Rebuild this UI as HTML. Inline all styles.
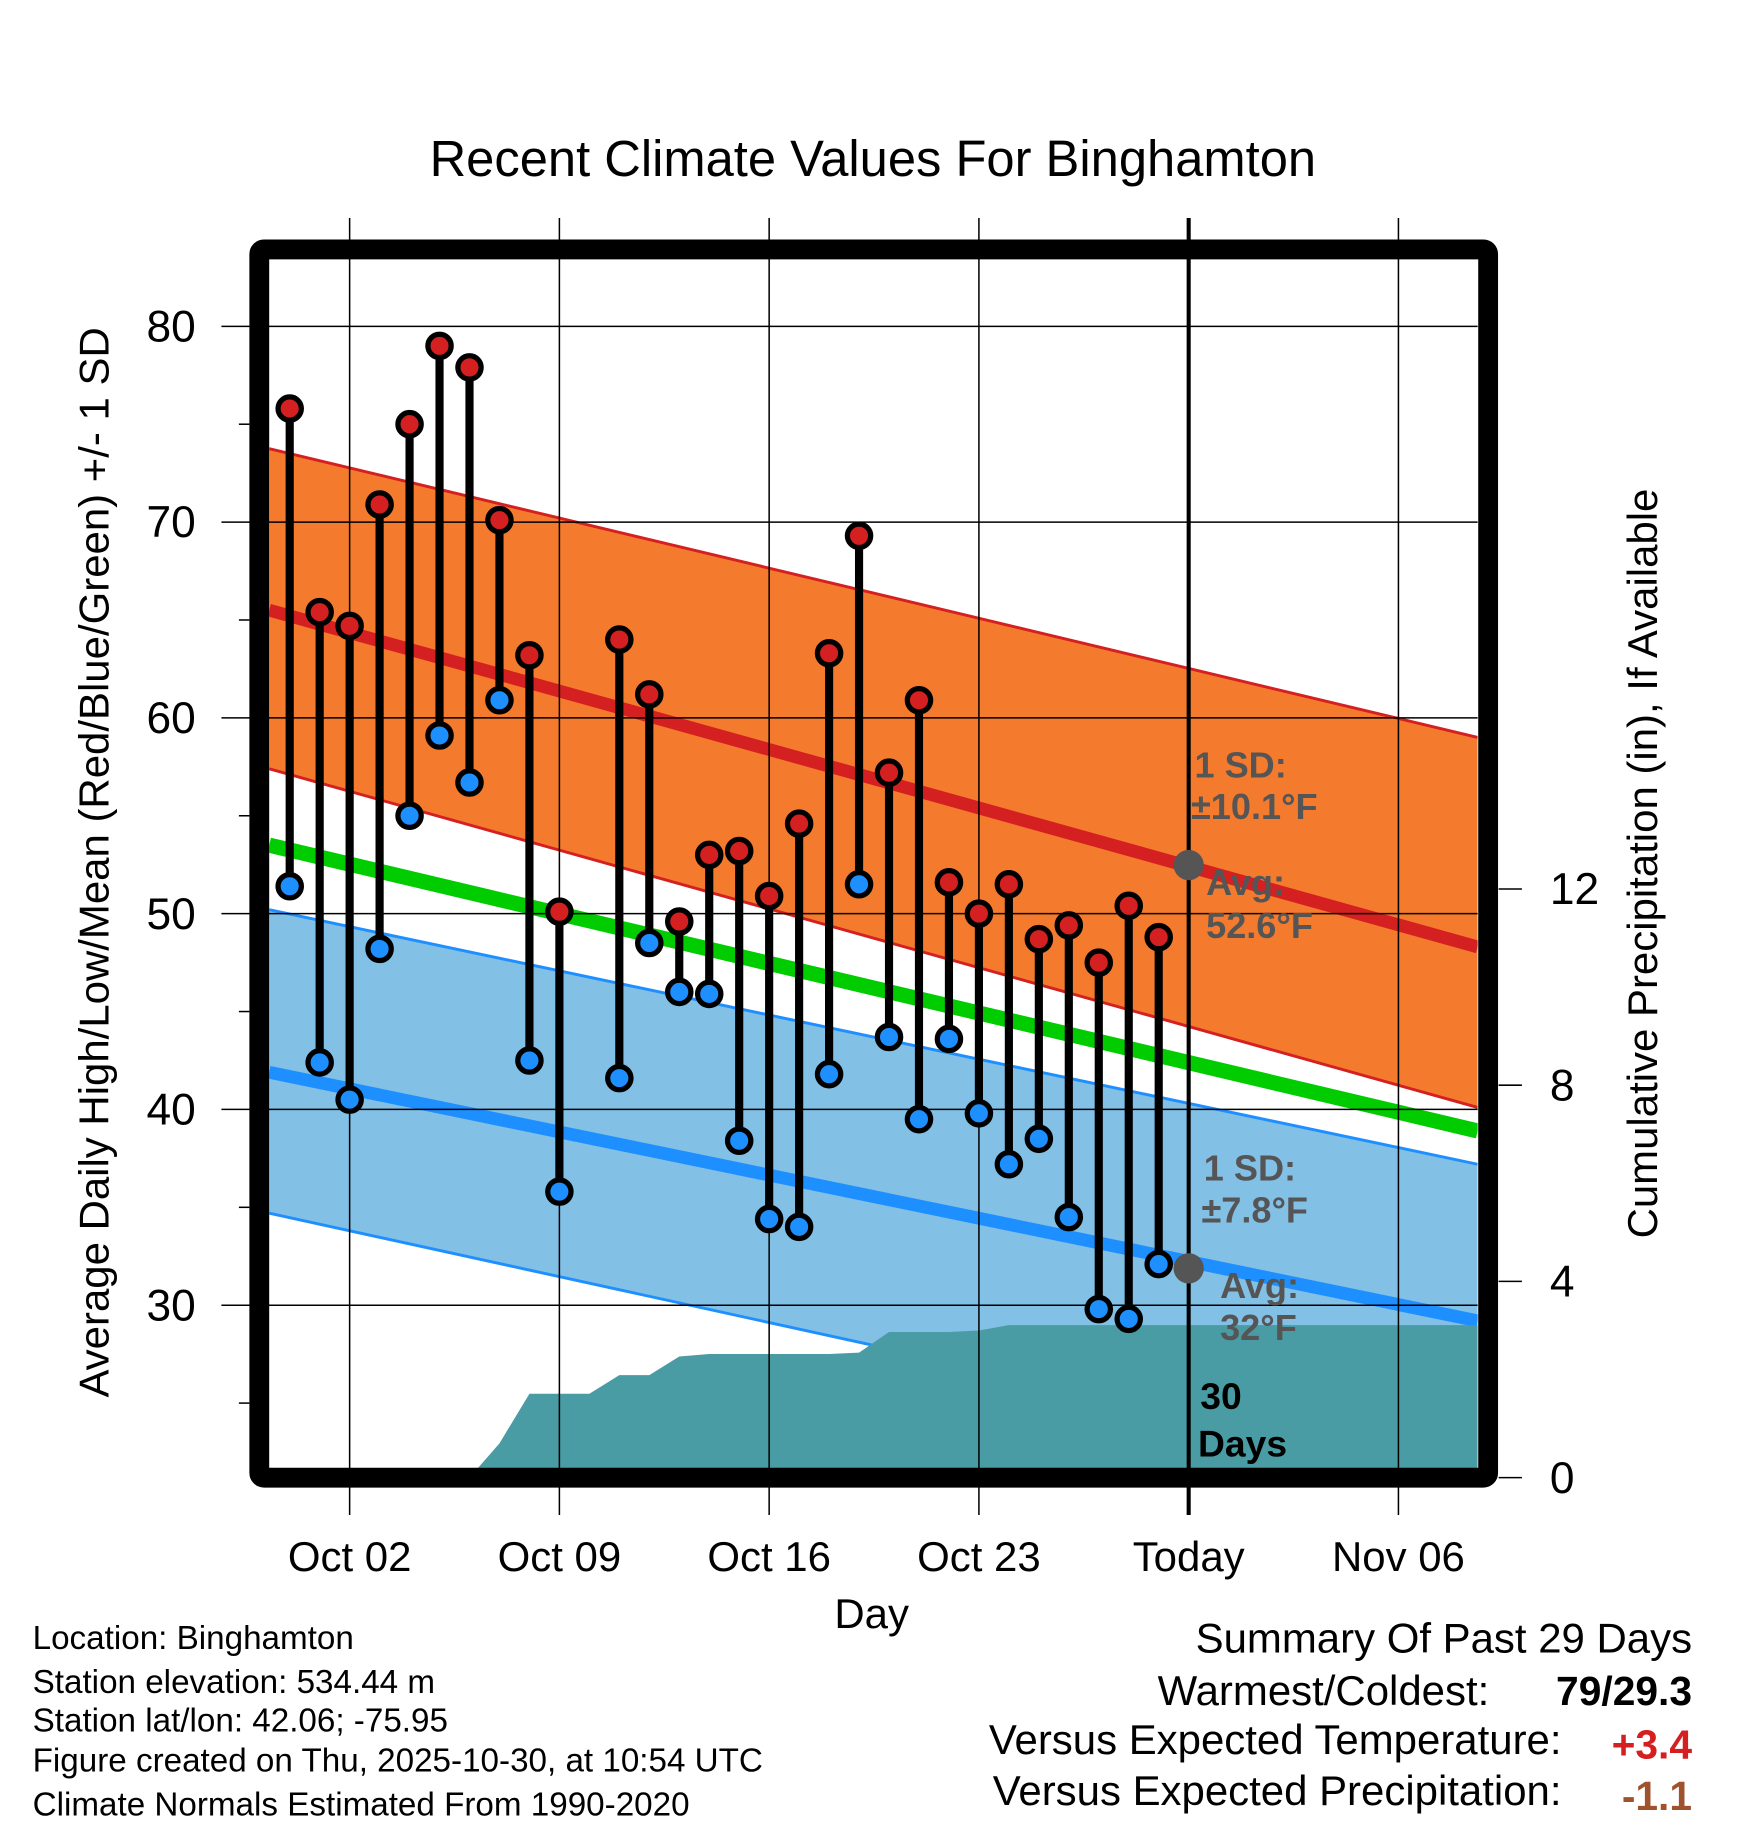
<!DOCTYPE html>
<html><head><meta charset="utf-8"><style>
html,body{margin:0;padding:0;background:#fff}
svg{display:block;font-family:"Liberation Sans",Arial,sans-serif}
</style></head><body>
<svg id="chart" width="1748" height="1828" viewBox="0 0 1500 1568.6" xmlns="http://www.w3.org/2000/svg">
<g id="plot"></g>
</svg>
<script>
const dayLabels = ["Oct 02","Oct 09","Oct 16","Oct 23","Today","Nov 06"];
const dayTickOffsets = [2,9,16,23,30,37]; // days after Sep 30
const highs = [75.8,65.4,64.7,70.9,75.0,79.0,77.9,70.1,63.2,50.1,null,64.0,61.2,49.6,53.0,53.2,50.9,54.6,63.3,69.3,57.2,60.9,51.6,50.0,51.5,48.7,49.4,47.5,50.4,48.8];
const lows  = [51.4,42.4,40.5,48.2,55.0,59.1,56.7,60.9,42.5,35.8,null,41.6,48.5,46.0,45.9,38.4,34.4,34.0,41.8,51.5,43.7,39.5,43.6,39.8,37.2,38.5,34.5,29.8,29.3,32.1];
const precipCum = [0,0,0,0,0,0,0,0.7,1.71,1.71,1.71,2.09,2.09,2.47,2.52,2.52,2.52,2.52,2.52,2.55,2.97,2.97,2.97,3.0,3.11,3.11,3.11,3.11,3.11,3.11];
const normHighMean = [65.5,48.3];
const normHighUpper = [73.75,59.0];
const normHighLower = [57.4,40.1];
const normMean = [53.5,38.9];
const normLowMean = [41.9,29.2];
const normLowUpper = [50.2,37.2];
const normLowLower = [34.7,21.2];
const tempTicks = [30,40,50,60,70,80];
const precipTicks = [0,4,8,12];

const L=231,R=1268,T=223,B=1260;
const x = d => 248.6 + d*180/7;
const y = t => 1120 - (t-30)*16.8;
const yp = p => 1268 - p*42.1;
const NS="http://www.w3.org/2000/svg";
const g=document.getElementById('plot');
function el(tag,attrs,parent){const e=document.createElementNS(NS,tag);for(const k in attrs)e.setAttribute(k,attrs[k]);(parent||g).appendChild(e);return e;}

const defs=el('defs',{});
const cp=el('clipPath',{id:'clip'},defs);
el('rect',{x:L,y:T,width:R-L,height:B-T},cp);
const inner=el('g',{'clip-path':'url(#clip)'});

function band(up,lo,fill,edge,name){
  const p=el('polygon',{points:`${L},${y(up[0])} ${R},${y(up[1])} ${R},${y(lo[1])} ${L},${y(lo[0])}`,fill:fill},inner);
  
  
  [up,lo].forEach(a=>{const l=el('line',{x1:L,y1:y(a[0]),x2:R,y2:y(a[1]),stroke:edge,'stroke-width':2.5},inner);
    
    });
}
band(normHighUpper,normHighLower,'#f47a2e','#d42020','high-sd-band');
band(normLowUpper,normLowLower,'#82c0e6','#1e8fff','low-sd-band');
function mline(a,c,w,name){const l=el('line',{x1:L,y1:y(a[0]),x2:R,y2:y(a[1]),stroke:c,'stroke-width':w},inner);
  
  }
mline(normHighMean,'#d42020',11,'normal-high-line');
mline(normLowMean,'#1e8fff',11,'normal-low-line');
mline(normMean,'#00cc00',13,'normal-mean-line');

let pts=`${x(0)},${B} `;
precipCum.forEach((p,i)=>{pts+=`${x(i)},${yp(p)} `;});
pts+=`${R},${yp(precipCum[precipCum.length-1])} ${R},${B}`;
const pp=el('polygon',{points:pts,fill:'#4a9ca4'},inner);



dayTickOffsets.forEach((d,i)=>{
  const gl=el('line',{x1:x(d),y1:187,x2:x(d),y2:1300,stroke:'#000','stroke-width':dayLabels[i]==='Today'?3.5:1.3});
  
  
  const t=el('text',{x:x(d),y:1348,'font-size':36,'text-anchor':'middle',fill:'#000'});
  t.textContent=dayLabels[i];
  
  
});
tempTicks.forEach(v=>{
  const gl=el('line',{x1:190,y1:y(v),x2:R,y2:y(v),stroke:'#000','stroke-width':1.3});
  
  
  const t=el('text',{x:168,y:y(v)+13,'font-size':38,'text-anchor':'end'});
  t.textContent=v;
  
  
});
[25,35,45,55,65,75].forEach(v=>{el('line',{x1:205,y1:y(v),x2:214,y2:y(v),stroke:'#000','stroke-width':1.3});});
precipTicks.forEach(v=>{
  const tk=el('line',{x1:1286,y1:yp(v),x2:1306,y2:yp(v),stroke:'#000','stroke-width':1.3});
  
  
  const t=el('text',{x:1330,y:yp(v)+13,'font-size':38});
  t.textContent=v;
  
  
});

const tx=x(30);
[52.6,32].forEach(v=>{const c=el('circle',{cx:tx,cy:y(v)+2,r:13,fill:'#555'});
  
  });
const ann=[["1 SD:",1025,667],["±10.1°F",1022,703],["Avg:",1035,768],["52.6°F",1035,805],["1 SD:",1033,1013],["±7.8°F",1031,1049],["Avg:",1047,1114],["32°F",1047,1150]];
ann.forEach(a=>{const t=el('text',{x:a[1],y:a[2],'font-size':31,'font-weight':'bold',fill:'#555'});t.textContent=a[0];
  
  });
[["30",1030,1209],["Days",1028,1250]].forEach(a=>{const t=el('text',{x:a[1],y:a[2],'font-size':32,'font-weight':'bold',fill:'#000'});t.textContent=a[0];
  
  });

highs.forEach((h,i)=>{
  if(h==null)return;
  const l=lows[i];
  const ln=el('line',{x1:x(i),y1:y(h),x2:x(i),y2:y(l),stroke:'#000','stroke-width':7});
  
  
  const ch=el('circle',{cx:x(i),cy:y(h),r:10,fill:'#d42020',stroke:'#000','stroke-width':4.5});
  
  
  const cl=el('circle',{cx:x(i),cy:y(l),r:10,fill:'#1e8fff',stroke:'#000','stroke-width':4.5});
  
  
});

const fr=el('rect',{x:222.5,y:214,width:1054.5,height:1054,fill:'none',stroke:'#000','stroke-width':17,rx:4});



function txt(s,attrs,name){const t=el('text',attrs);t.textContent=s;
  
  return t;}
txt("Recent Climate Values For Binghamton",{x:749,y:151,'font-size':43.5,'text-anchor':'middle'},'chart-title');
txt("Average Daily High/Low/Mean (Red/Blue/Green) +/- 1 SD",{x:0,y:0,'font-size':36,'text-anchor':'middle',transform:'translate(93,740) rotate(-90)'},'y-axis-title');
txt("Cumulative Precipitation (in), If Available",{x:0,y:0,'font-size':36,'text-anchor':'middle',transform:'translate(1422,741) rotate(-90)'},'precip-axis-title');
txt("Day",{x:748,y:1397,'font-size':36,'text-anchor':'middle'},'x-axis-title');
const foot=[["Location: Binghamton",1415],["Station elevation: 534.44 m",1453],["Station lat/lon: 42.06; -75.95",1486],["Figure created on Thu, 2025-10-30, at 10:54 UTC",1520],["Climate Normals Estimated From 1990-2020",1558]];
foot.forEach(f=>txt(f[0],{x:28,y:f[1],'font-size':28.5},'footer-info'));
txt("Summary Of Past 29 Days",{x:1452,y:1418,'font-size':36,'text-anchor':'end'},'summary-title');
txt("Warmest/Coldest:",{x:1278,y:1463,'font-size':36,'text-anchor':'end'},'summary-label');
txt("79/29.3",{x:1452,y:1463,'font-size':35,'font-weight':'bold','text-anchor':'end'},'summary-warm-cold');
txt("Versus Expected Temperature:",{x:1340,y:1505,'font-size':36,'text-anchor':'end'},'summary-label');
txt("+3.4",{x:1452,y:1509,'font-size':35,'font-weight':'bold','text-anchor':'end',fill:'#d42020'},'summary-temp-departure');
txt("Versus Expected Precipitation:",{x:1340,y:1549,'font-size':36,'text-anchor':'end'},'summary-label');
txt("-1.1",{x:1452,y:1553,'font-size':35,'font-weight':'bold','text-anchor':'end',fill:'#a0522d'},'summary-precip-departure');
</script>
</body></html>
